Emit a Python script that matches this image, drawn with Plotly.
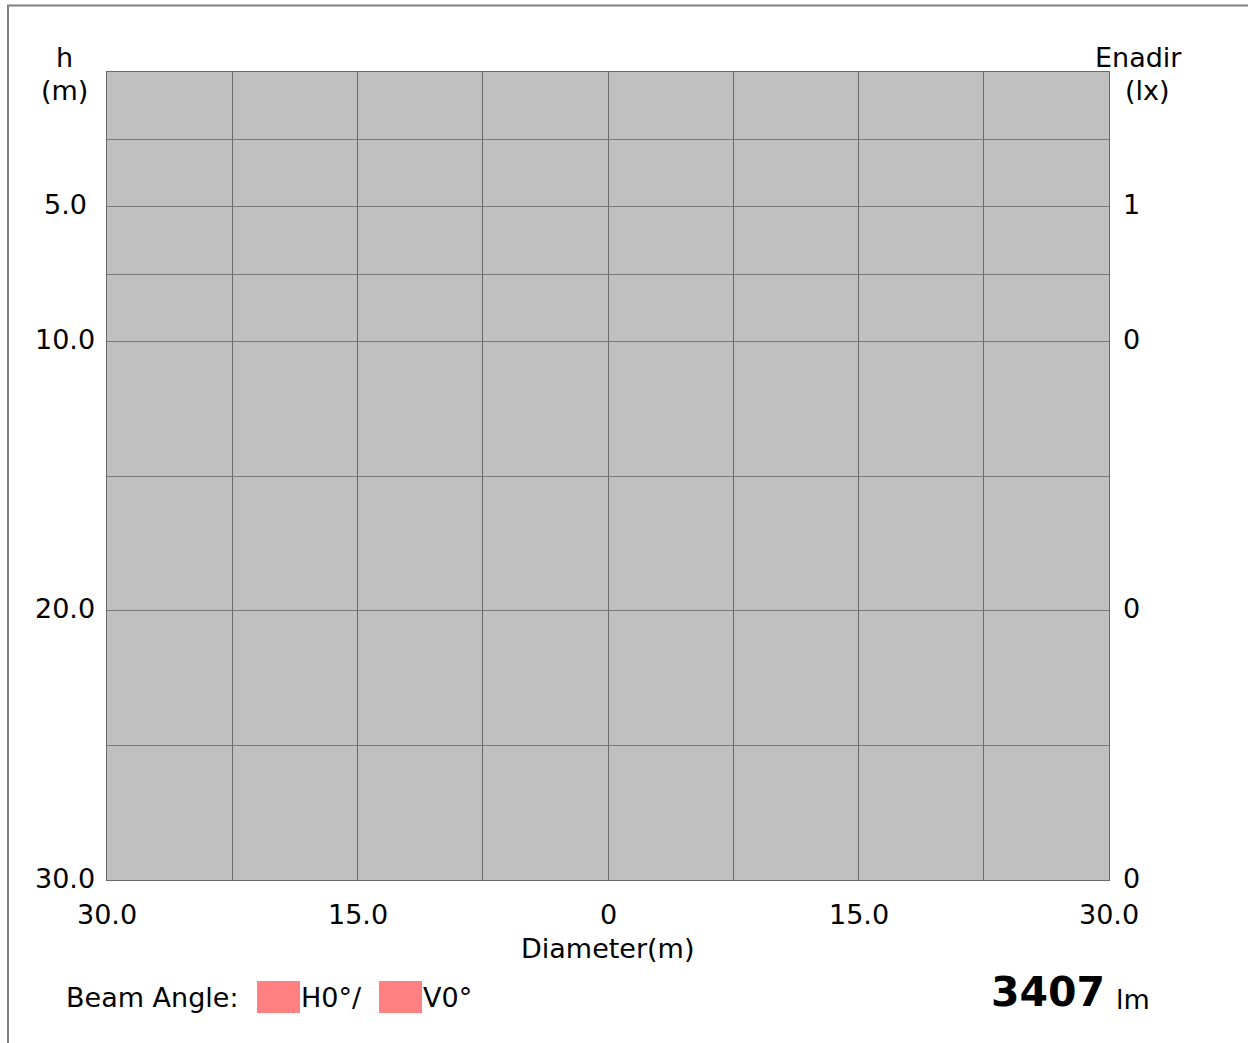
import plotly.graph_objects as go

# ---- data ----
x_range = [-30, 30]
y_range = [0, 30]
x_grid = [-30, -22.5, -15, -7.5, 0, 7.5, 15, 22.5, 30]
y_grid = [0, 2.5, 5, 7.5, 10, 15, 20, 25, 30]
x_tick_vals = [-30, -15, 0, 15, 30]
x_tick_text = ["30.0", "15.0", "0", "15.0", "30.0"]
h_tick_vals = [5, 10, 20, 30]
h_tick_text = ["5.0", "10.0", "20.0", "30.0"]
e_tick_text = ["1", "0", "0", "0"]
beam_h = "H0°/"
beam_v = "V0°"
lumen = "3407"

FONT = "DejaVu Sans"
FS = 27
W, H = 1248, 1043
OX, OY = 0, 0  # page body margin (set to 0 below)
PX0, PX1, PY0, PY1 = 107, 1109, 72, 880  # target plot area in screen pixels
L = PX0 - OX
T = PY0 - OY
PW, PH = PX1 - PX0, PY1 - PY0
R = W - L - PW
B = H - T - PH


def px(xs):
    return (xs - PX0) / PW


def py(ys):
    return (PY1 - ys) / PH


fig = go.Figure()
# invisible trace to establish axes
fig.add_trace(go.Scatter(x=x_range, y=y_range, mode="markers",
                         marker=dict(opacity=0), hoverinfo="skip", showlegend=False))

fig.update_layout(
    width=W, height=H,
    margin=dict(l=L, r=R, t=T, b=B, pad=0),
    paper_bgcolor="white",
    plot_bgcolor="#c0c0c0",
    font=dict(family=FONT, size=FS, color="black"),
    showlegend=False,
)
fig.update_xaxes(range=x_range, tickmode="array", tickvals=x_grid,
                 showticklabels=False, ticks="", showgrid=True,
                 gridcolor="#6a6a6a", gridwidth=1, zeroline=False,
                 showline=True, linecolor="#6a6a6a", linewidth=1, mirror=True)
fig.update_yaxes(range=[y_range[1], y_range[0]], tickmode="array", tickvals=y_grid,
                 showticklabels=False, ticks="", showgrid=True,
                 gridcolor="#7a7a7a", gridwidth=1, zeroline=False,
                 showline=True, linecolor="#6a6a6a", linewidth=1, mirror=True)

ann = []
# left tick labels (centered)
for v, t in zip(h_tick_vals, h_tick_text):
    ann.append(dict(x=px(65), y=v, xref="paper", yref="y", text=t, showarrow=False,
                    xanchor="center", yanchor="middle", yshift=2))
# right tick labels
for v, t in zip(h_tick_vals, e_tick_text):
    ann.append(dict(x=px(1121), y=v, xref="paper", yref="y", text=t, showarrow=False,
                    xanchor="left", yanchor="middle", yshift=2))
# x tick labels
for v, t in zip(x_tick_vals, x_tick_text):
    ann.append(dict(x=v, y=py(915), xref="x", yref="paper", text=t, showarrow=False,
                    xanchor="center", yanchor="middle"))

ann += [
    dict(x=px(64), y=py(58), text="h", xanchor="center"),
    dict(x=px(64), y=py(90), text="(m)", xanchor="center"),
    dict(x=px(1138), y=py(58), text="Enadir", xanchor="center"),
    dict(x=px(1147), y=py(90), text="(lx)", xanchor="center"),
    dict(x=px(607), y=py(948), text="Diameter(m)", xanchor="center"),
    dict(x=px(64), y=py(998), text="Beam Angle:", xanchor="left"),
    dict(x=px(299), y=py(998), text=beam_h, xanchor="left"),
    dict(x=px(421), y=py(998), text=beam_v, xanchor="left"),
    dict(x=px(1107), y=py(992), text="<b>" + lumen + "</b>", xanchor="right",
         font=dict(size=41, family=FONT, color="black")),
    dict(x=px(1114), y=py(999), text="lm", xanchor="left"),
]
for a in ann[-10:]:
    a.update(xref="paper", yref="paper", showarrow=False, yanchor="middle")
fig.update_layout(annotations=ann)

shapes = [
    # outer frame (extends past right and bottom edges)
    dict(type="rect", xref="paper", yref="paper",
         x0=px(8), x1=px(1262), y0=py(1060), y1=py(5.5),
         line=dict(color="#808080", width=2), fillcolor="rgba(0,0,0,0)", layer="below"),
    dict(type="rect", xref="paper", yref="paper",
         x0=px(257), x1=px(300), y0=py(1013), y1=py(981),
         line=dict(width=0), fillcolor="#ff8080"),
    dict(type="rect", xref="paper", yref="paper",
         x0=px(379), x1=px(422), y0=py(1013), y1=py(981),
         line=dict(width=0), fillcolor="#ff8080"),
]
fig.update_layout(shapes=shapes)

fig.write_html("out.html",
               config={"displayModeBar": False, "staticPlot": True},
               post_script="document.body.style.margin='0';document.body.style.overflow='hidden';")
